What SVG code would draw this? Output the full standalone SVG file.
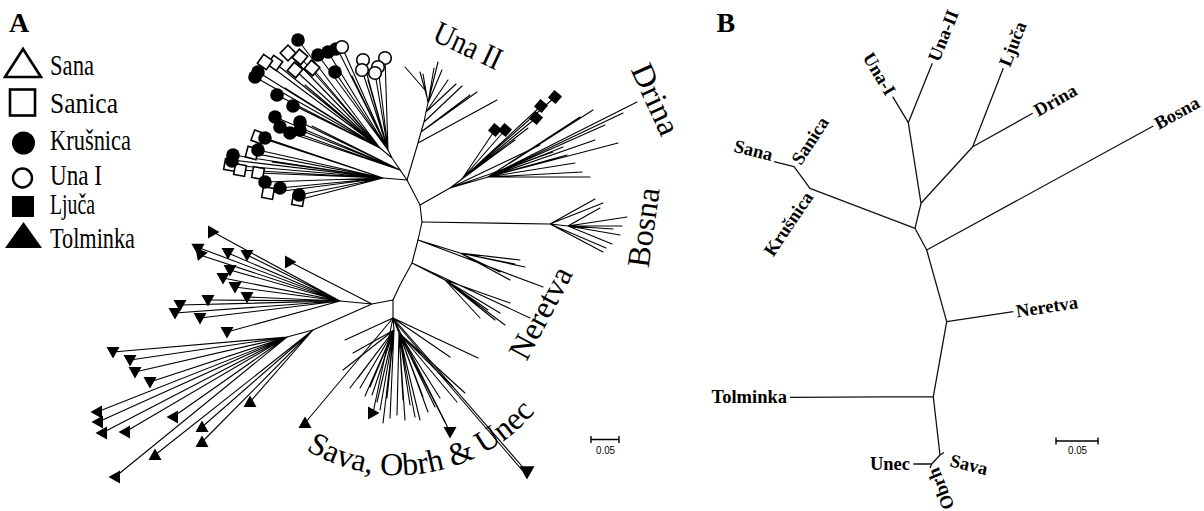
<svg xmlns="http://www.w3.org/2000/svg" xmlns:xlink="http://www.w3.org/1999/xlink" width="1204" height="511" viewBox="0 0 1204 511">
  <style>
    .br { fill: none; stroke: #000; stroke-width: 1.1; stroke-linecap: round; stroke-linejoin: round; }
    .brb { fill: none; stroke: #111; stroke-width: 1.3; stroke-linejoin: round; }
    .panel { font-family: "Liberation Serif", "Times New Roman", serif; font-weight: bold; font-size: 28px; fill: #000; }
    .leg { font-family: "Liberation Serif", "Times New Roman", serif; font-size: 29px; fill: #000; }
    .clade { font-family: "Liberation Serif", "Times New Roman", serif; font-size: 32px; fill: #000; }
    .lab { font-family: "Liberation Serif", "Times New Roman", serif; font-weight: bold; font-size: 18.5px; fill: #000; }
    .scale { font-family: "Liberation Sans", Arial, sans-serif; font-size: 10.5px; fill: #000; }
    .bar { fill: none; stroke: #000; stroke-width: 1.4; }
  </style>
  <defs>
    <circle id="mk-f" r="6.8" fill="#000"/>
    <circle id="mk-o" r="6.3" fill="#fff" stroke="#000" stroke-width="1.6"/>
    <rect id="mk-s" x="-5.5" y="-5.5" width="11" height="11" fill="#fff" stroke="#000" stroke-width="1.6"/>
    <rect id="mk-l" x="-5" y="-5" width="10" height="10" fill="#000"/>
    <path id="mk-t" d="M-6.5,-5 L6.5,-5 L0,6.5 Z" fill="#000"/>
    <path id="sava-arc" d="M306,450 A180.4,180.4 0 0 0 540,406"/>
  </defs>
  <rect width="1204" height="511" fill="#fff"/>

  <!-- ===== Panel A: haplotype tree ===== -->
  <text class="panel" x="9" y="32">A</text>

  <g id="legend">
    <g id="legend-sana">
      <path d="M5,77 L41,77 L23,49 Z" fill="#fff" stroke="#000" stroke-width="2.6" stroke-linejoin="miter"/>
      <text class="leg" x="50" y="75" textLength="44" lengthAdjust="spacingAndGlyphs">Sana</text>
    </g>
    <g id="legend-sanica">
      <rect x="10" y="89.5" width="25" height="26" fill="#fff" stroke="#000" stroke-width="2.6"/>
      <text class="leg" x="50" y="113" textLength="68" lengthAdjust="spacingAndGlyphs">Sanica</text>
    </g>
    <g id="legend-krusnica">
      <circle cx="23.5" cy="143" r="11.5" fill="#000"/>
      <text class="leg" x="50" y="150" textLength="81" lengthAdjust="spacingAndGlyphs">Krušnica</text>
    </g>
    <g id="legend-una1">
      <circle cx="22.5" cy="178" r="9.5" fill="#fff" stroke="#000" stroke-width="2.4"/>
      <text class="leg" x="50" y="185" textLength="52" lengthAdjust="spacingAndGlyphs">Una I</text>
    </g>
    <g id="legend-ljuca">
      <rect x="12" y="196" width="22" height="21" fill="#000"/>
      <text class="leg" x="50" y="214" textLength="45" lengthAdjust="spacingAndGlyphs">Ljuča</text>
    </g>
    <g id="legend-tolminka">
      <path d="M5,248 L42,248 L23.5,222 Z" fill="#000"/>
      <text class="leg" x="50" y="248" textLength="85" lengthAdjust="spacingAndGlyphs">Tolminka</text>
    </g>
  </g>

  <g id="connectors-a" class="br">
    <!-- backbone -->
    <path d="M407,180 L420,205 L422,222 L418,240 L412,263 L400,285 L393,300 L393,318"/>
    <!-- Una II -->
    <path d="M407,180 L418,143 L421,132 L424,122 L426,112 L428,103 L427,97 L425,90
             M418,143 L497,100 M421,132 L477,92 M421,132 L470,95 M424,122 L462,86
             M426,112 L448,80 M426,112 L456,84 M428,103 L438,62 M428,103 L434,68
             M428,103 L442,70 M427,97 L423,74 M427,97 L420,72 M425,90 L405,67"/>
    <!-- Krušnica / Sana / Sanica / Una I -->
    <path d="M407,180 L392,158 L388,150 M392,158 L380,148 M407,180 L400,170 M407,180 L383,178"/>
    <path d="M388,150L342,47 M388,150L363,60 M388,150L385,58 M388,150L362,70 M388,150L378,67
             M388,150L375,73 M388,150L337,48 M388,150L328,52 M388,150L318,55 M388,150L335,72
             M388,150L352,76 M388,150L368,80"/>
    <path d="M380,148L298,40 M380,148L288,53 M380,148L300,57 M380,148L275,63 M380,148L265,62
             M380,148L295,70 M380,148L312,68 M380,148L258,72 M380,148L255,77 M380,148L277,95
             M380,148L293,105 M380,148L305,85 M380,148L285,88"/>
    <path d="M400,170L275,117 M400,170L280,127 M400,170L290,133 M400,170L300,122 M400,170L300,130 M400,170L312,126"/>
    <path d="M383,178L265,138 M383,178L258,137 M383,178L258,150 M383,178L252,153 M383,178L233,155
             M383,178L232,160 M383,178L230,165 M383,178L240,170 M383,178L258,173 M383,178L265,182
             M383,178L280,188 M383,178L268,193 M383,178L299,195 M383,178L298,200 M383,178L272,162 M383,178L300,168"/>
    <!-- Drina and Ljuča -->
    <path d="M420,205 L450,188 L462,179 M450,188 L488,177 M450,188 L540,145 M450,188 L553,152"/>
    <path d="M462,179L495,130 M462,179L505,130 M462,179L536,118 M462,179L541,106 M462,179L555,97 M462,179L515,140 M462,179L528,128"/>
    <path d="M488,177L637,102 M488,177L623,113 M488,177L593,110 M488,177L580,117 M488,177L618,143
             M488,177L595,140 M488,177L590,177 M488,177L582,172 M488,177L575,163 M488,177L567,155
             M488,177L563,147 M488,177L605,125"/>
    <!-- Bosna -->
    <path d="M422,222 L550,224 L568,226 M550,224L603,203 M550,224L595,199 M550,224L603,252 M550,224L606,248
             M568,226L627,217 M568,226L622,226 M568,226L613,229 M568,226L620,235 M568,226L600,208 M568,226L612,244"/>
    <!-- Neretva -->
    <path d="M418,240 L460,253 M418,240L543,287 M460,253L520,260 M460,253L525,267 M460,253L515,264
             M460,253L510,280 M460,253L500,272"/>
    <path d="M412,263 L445,280 M412,263L530,318 M445,280L510,303 M445,280L480,318 M445,280L500,313
             M445,280L495,320 M445,280L505,325 M445,280L488,310"/>
    <!-- Tolminka -->
    <path d="M393,300 L372,304 L340,301 M372,304 L313,330 L287,337 M372,304 L290,262"/>
    <path d="M340,301L213,232 M340,301L197,247 M340,301L200,255 M340,301L228,253 M340,301L247,255
             M340,301L230,270 M340,301L223,278 M340,301L235,287 M340,301L247,297 M340,301L180,305
             M340,301L175,313 M340,301L208,300 M340,301L200,318 M340,301L227,332"/>
    <path d="M287,337L113,352 M287,337L130,360 M287,337L135,372 M287,337L150,382 M287,337L97,412
             M287,337L98,422 M287,337L102,433 M287,337L125,432 M287,337L173,417 M287,337L115,477"/>
    <path d="M313,330L202,427 M313,330L202,442 M313,330L155,455 M313,330L250,402 M393,318L305,423"/>
    <!-- Sava, Obrh and Unec -->
    <path d="M393,318 L394,330 M393,318 L399,333 M393,318L373,413 M393,318L450,432
             M393,318L527,472 M395,322L522,470 M393,318L478,358 M393,318L450,357 M393,318L345,340"/>
    <path d="M394,330L353,353 M394,330L343,370 M394,330L350,388 M394,330L360,388 M394,330L370,387
             M394,330L377,402 M394,330L383,423 M394,330L387,398 M394,330L365,396 M394,330L358,378
             M394,330L372,395 M394,330L380,410 M394,330L390,418"/>
    <path d="M399,333L397,415 M399,333L403,400 M399,333L415,417 M399,333L423,397 M399,333L435,407
             M399,333L445,422 M399,333L453,387 M399,333L465,393 M399,333L428,412 M399,333L410,405
             M399,333L440,398 M399,333L457,402 M399,333L420,420 M399,333L405,420"/>
  </g>

  <g id="haplotypes-sanica">
    <use xlink:href="#mk-s" transform="translate(288,53) rotate(45)"/>
    <use xlink:href="#mk-s" transform="translate(300,57) rotate(40)"/>
    <use xlink:href="#mk-s" transform="translate(275,63) rotate(35)"/>
    <use xlink:href="#mk-s" transform="translate(265,62) rotate(35)"/>
    <use xlink:href="#mk-s" transform="translate(295,70) rotate(40)"/>
    <use xlink:href="#mk-s" transform="translate(312,68) rotate(40)"/>
    <use xlink:href="#mk-s" transform="translate(258,137) rotate(20)"/>
    <use xlink:href="#mk-s" transform="translate(252,153) rotate(15)"/>
    <use xlink:href="#mk-s" transform="translate(230,165) rotate(10)"/>
    <use xlink:href="#mk-s" transform="translate(240,170) rotate(10)"/>
    <use xlink:href="#mk-s" transform="translate(258,173) rotate(10)"/>
    <use xlink:href="#mk-s" transform="translate(268,193) rotate(10)"/>
    <use xlink:href="#mk-s" transform="translate(298,200) rotate(10)"/>
  </g>
  <g id="haplotypes-krusnica">
    <use xlink:href="#mk-f" x="298" y="40"/>
    <use xlink:href="#mk-f" x="258" y="72"/>
    <use xlink:href="#mk-f" x="255" y="77"/>
    <use xlink:href="#mk-f" x="318" y="55"/>
    <use xlink:href="#mk-f" x="328" y="52"/>
    <use xlink:href="#mk-f" x="336" y="49"/>
    <use xlink:href="#mk-f" x="335" y="72"/>
    <use xlink:href="#mk-f" x="277" y="95"/>
    <use xlink:href="#mk-f" x="293" y="106"/>
    <use xlink:href="#mk-f" x="275" y="117"/>
    <use xlink:href="#mk-f" x="280" y="127"/>
    <use xlink:href="#mk-f" x="290" y="133"/>
    <use xlink:href="#mk-f" x="300" y="122"/>
    <use xlink:href="#mk-f" x="300" y="130"/>
    <use xlink:href="#mk-f" x="265" y="138"/>
    <use xlink:href="#mk-f" x="258" y="150"/>
    <use xlink:href="#mk-f" x="233" y="155"/>
    <use xlink:href="#mk-f" x="232" y="161"/>
    <use xlink:href="#mk-f" x="265" y="182"/>
    <use xlink:href="#mk-f" x="280" y="188"/>
    <use xlink:href="#mk-f" x="299" y="195"/>
  </g>
  <g id="haplotypes-una1">
    <use xlink:href="#mk-o" x="342" y="47"/>
    <use xlink:href="#mk-o" x="363" y="60"/>
    <use xlink:href="#mk-o" x="385" y="58"/>
    <use xlink:href="#mk-o" x="362" y="70"/>
    <use xlink:href="#mk-o" x="378" y="67"/>
    <use xlink:href="#mk-o" x="375" y="73"/>
  </g>
  <g id="haplotypes-ljuca">
    <use xlink:href="#mk-l" transform="translate(495,130) rotate(40)"/>
    <use xlink:href="#mk-l" transform="translate(505,130) rotate(40)"/>
    <use xlink:href="#mk-l" transform="translate(536,118) rotate(40)"/>
    <use xlink:href="#mk-l" transform="translate(541,106) rotate(40)"/>
    <use xlink:href="#mk-l" transform="translate(555,97) rotate(40)"/>
  </g>
  <g id="haplotypes-tolminka">
    <use xlink:href="#mk-t" transform="translate(213,232) rotate(-90)"/>
    <use xlink:href="#mk-t" transform="translate(197,247) rotate(120)"/>
    <use xlink:href="#mk-t" transform="translate(200,255) rotate(20)"/>
    <use xlink:href="#mk-t" transform="translate(228,253)"/>
    <use xlink:href="#mk-t" transform="translate(247,255)"/>
    <use xlink:href="#mk-t" transform="translate(290,262) rotate(-90)"/>
    <use xlink:href="#mk-t" transform="translate(230,270)"/>
    <use xlink:href="#mk-t" transform="translate(223,278)"/>
    <use xlink:href="#mk-t" transform="translate(235,287)"/>
    <use xlink:href="#mk-t" transform="translate(247,297)"/>
    <use xlink:href="#mk-t" transform="translate(180,305)"/>
    <use xlink:href="#mk-t" transform="translate(175,313)"/>
    <use xlink:href="#mk-t" transform="translate(208,300)"/>
    <use xlink:href="#mk-t" transform="translate(200,318)"/>
    <use xlink:href="#mk-t" transform="translate(227,332)"/>
    <use xlink:href="#mk-t" transform="translate(113,352)"/>
    <use xlink:href="#mk-t" transform="translate(130,360)"/>
    <use xlink:href="#mk-t" transform="translate(135,372)"/>
    <use xlink:href="#mk-t" transform="translate(150,382)"/>
    <use xlink:href="#mk-t" transform="translate(97,412) rotate(90)"/>
    <use xlink:href="#mk-t" transform="translate(98,422) rotate(90)"/>
    <use xlink:href="#mk-t" transform="translate(102,433) rotate(90)"/>
    <use xlink:href="#mk-t" transform="translate(125,432) rotate(90)"/>
    <use xlink:href="#mk-t" transform="translate(173,417) rotate(90)"/>
    <use xlink:href="#mk-t" transform="translate(202,427) rotate(180)"/>
    <use xlink:href="#mk-t" transform="translate(202,442) rotate(180)"/>
    <use xlink:href="#mk-t" transform="translate(155,455) rotate(180)"/>
    <use xlink:href="#mk-t" transform="translate(115,477) rotate(90)"/>
    <use xlink:href="#mk-t" transform="translate(250,402) rotate(180)"/>
    <use xlink:href="#mk-t" transform="translate(305,423) rotate(180)"/>
    <use xlink:href="#mk-t" transform="translate(373,413) rotate(-90)"/>
    <use xlink:href="#mk-t" transform="translate(450,432)"/>
    <use xlink:href="#mk-t" transform="translate(527,472) scale(1.15)"/>
  </g>

  <g id="clade-labels">
    <text id="label-una2" class="clade" transform="translate(431,40) rotate(25)" textLength="72" lengthAdjust="spacingAndGlyphs">Una II</text>
    <text id="label-drina" class="clade" transform="translate(630.5,69.5) rotate(65.6)" textLength="75" lengthAdjust="spacingAndGlyphs">Drina</text>
    <text id="label-bosna" class="clade" transform="translate(648.5,268.5) rotate(-82)" textLength="80" lengthAdjust="spacingAndGlyphs">Bosna</text>
    <text id="label-neretva" class="clade" transform="translate(526.5,362) rotate(-62)" textLength="100" lengthAdjust="spacingAndGlyphs">Neretva</text>
    <text id="label-sava" class="clade"><textPath xlink:href="#sava-arc">Sava, Obrh &amp; Unec</textPath></text>
  </g>

  <g id="scale-a">
    <path class="bar" d="M591,439.5 H619 M591,436 V443 M619,436 V443"/>
    <text class="scale" x="596" y="454" textLength="19" lengthAdjust="spacingAndGlyphs">0.05</text>
  </g>

  <!-- ===== Panel B: population tree ===== -->
  <text class="panel" x="716.5" y="31.7">B</text>

  <g id="connectors-b" class="brb">
    <path d="M774,161.7 L794,166.7 L810,188.3 L915,228.3 L921,203.3 L908.3,122.7 L892.7,96.7
             M908.3,122.7 L932.3,63.3
             M921,203.3 L972.7,146.7 L1003.3,68.3
             M972.7,146.7 L1032.7,113.3
             M915,228.3 L926.7,250 L1153.3,126
             M926.7,250 L946.7,321.7 L1013.3,311.7
             M946.7,321.7 L933.3,396.7 L790,397.3
             M933.3,396.7 L940,455 L944,452.5
             M940,455 L931.7,464 L913.3,464
             M931.7,464 L930,468"/>
  </g>

  <g id="populations">
    <g id="pop-sana"><text class="lab" transform="translate(771,161) rotate(14)" text-anchor="end">Sana</text></g>
    <g id="pop-sanica"><text class="lab" transform="translate(801,166) rotate(-57)">Sanica</text></g>
    <g id="pop-krusnica"><text class="lab" transform="translate(814,197) rotate(-56)" text-anchor="end">Krušnica</text></g>
    <g id="pop-una1"><text class="lab" transform="translate(886,97) rotate(59)" text-anchor="end">Una-I</text></g>
    <g id="pop-una2"><text class="lab" transform="translate(939,62.7) rotate(-68)">Una-II</text></g>
    <g id="pop-ljuca"><text class="lab" transform="translate(1010,67.7) rotate(-68.7)">Ljuča</text></g>
    <g id="pop-drina"><text class="lab" transform="translate(1038.3,117) rotate(-29.5)">Drina</text></g>
    <g id="pop-bosna"><text class="lab" transform="translate(1158.8,129.9) rotate(-28.8)">Bosna</text></g>
    <g id="pop-neretva"><text class="lab" transform="translate(1017,317.5) rotate(-8.6)">Neretva</text></g>
    <g id="pop-tolminka"><text class="lab" x="787" y="403" text-anchor="end">Tolminka</text></g>
    <g id="pop-sava"><text class="lab" transform="translate(949,466) rotate(14)">Sava</text></g>
    <g id="pop-unec"><text class="lab" x="910" y="470" text-anchor="end">Unec</text></g>
    <g id="pop-obrh"><text class="lab" transform="translate(938.5,466.5) rotate(-112)" text-anchor="end">Obrh</text></g>
  </g>

  <g id="scale-b">
    <path class="bar" d="M1056,441 H1098 M1056,437.5 V444.5 M1098,437.5 V444.5"/>
    <text class="scale" x="1068" y="454" textLength="19" lengthAdjust="spacingAndGlyphs">0.05</text>
  </g>
</svg>
